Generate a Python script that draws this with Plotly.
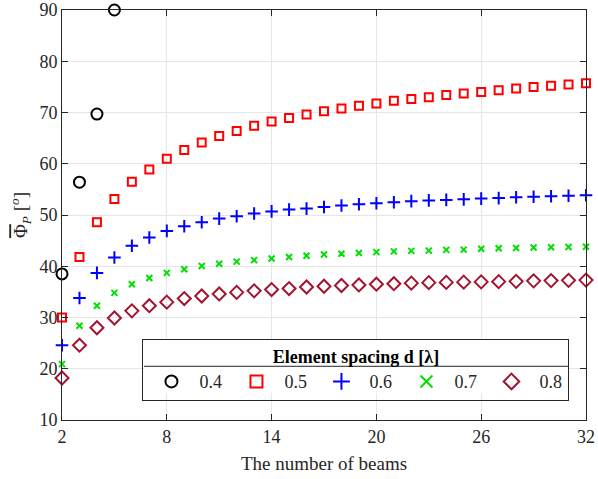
import plotly.graph_objects as go

beams = list(range(2, 33))
x04 = [2, 3, 4, 5]
y04 = [38.5, 56.4, 69.7, 90.0]
y05 = [30.0, 41.8, 48.6, 53.1, 56.5, 58.9, 61.0, 62.7, 64.15, 65.4, 66.4, 67.4, 68.25, 68.95,
       69.6, 70.25, 70.8, 71.3, 71.75, 72.3, 72.65, 73.0, 73.4, 73.7, 74.0, 74.35, 74.7, 75.0,
       75.2, 75.45, 75.7]
y06 = [24.6, 33.8, 38.7, 41.7, 44.0, 45.6, 46.9, 47.8, 48.6, 49.3, 49.75, 50.3, 50.7, 51.05,
       51.25, 51.55, 51.85, 52.1, 52.3, 52.5, 52.7, 52.85, 52.95, 53.05, 53.2, 53.3, 53.45, 53.55,
       53.65, 53.75, 53.85]
y07 = [20.9, 28.4, 32.3, 34.8, 36.5, 37.7, 38.7, 39.4, 40.05, 40.5, 40.9, 41.2, 41.5, 41.8,
       42.05, 42.3, 42.45, 42.6, 42.75, 42.9, 43.0, 43.05, 43.2, 43.25, 43.4, 43.5, 43.55, 43.65,
       43.7, 43.75, 43.8]
y08 = [18.2, 24.6, 28.0, 29.9, 31.3, 32.3, 33.0, 33.7, 34.2, 34.6, 34.9, 35.2, 35.45, 35.65,
       35.95, 36.1, 36.25, 36.35, 36.5, 36.6, 36.7, 36.8, 36.85, 36.9, 36.95, 37.0, 37.05, 37.15,
       37.2, 37.25, 37.3]
labels = ["0.4", "0.5", "0.6", "0.7", "0.8"]
xticks = [2, 8, 14, 20, 26, 32]
yticks = [10, 20, 30, 40, 50, 60, 70, 80, 90]

font = "Liberation Serif"
fig = go.Figure()
fig.add_trace(go.Scatter(x=x04, y=y04, mode="markers", name=labels[0], cliponaxis=False,
                         marker=dict(symbol="circle-open", size=11, color="black", line=dict(width=2, color="black"))))
fig.add_trace(go.Scatter(x=beams, y=y05, mode="markers", name=labels[1], cliponaxis=False,
                         marker=dict(symbol="square-open", size=8, color="#FF0000", line=dict(width=2, color="#FF0000"))))
fig.add_trace(go.Scatter(x=beams, y=y06, mode="markers", name=labels[2], cliponaxis=False,
                         marker=dict(symbol="cross-thin-open", size=9, color="#0000FF", line=dict(width=2, color="#0000FF"))))
fig.add_trace(go.Scatter(x=beams, y=y07, mode="markers", name=labels[3], cliponaxis=False,
                         marker=dict(symbol="x-thin-open", size=6, color="#00E000", line=dict(width=2, color="#00E000"))))
fig.add_trace(go.Scatter(x=beams, y=y08, mode="markers", name=labels[4], cliponaxis=False,
                         marker=dict(symbol="diamond-open", size=10, color="#A2142F", line=dict(width=2, color="#A2142F"))))

axcommon = dict(showline=True, linecolor="#262626", linewidth=1, mirror="ticks", ticks="inside",
                ticklen=6, tickcolor="#262626", showgrid=True, gridcolor="#E6E6E6", gridwidth=1,
                zeroline=False, automargin=False, tickfont=dict(family=font, size=18, color="#262626"))
fig.update_xaxes(range=[2, 32], tickvals=xticks, ticktext=[str(v) for v in xticks],
                 title=dict(text="The number of beams", font=dict(family=font, size=19, color="#262626"), standoff=11),
                 **axcommon)
fig.update_yaxes(range=[10, 90], tickvals=yticks, ticktext=[str(v) for v in yticks],
                 title=dict(text="<span style=\"text-decoration:overline\">Φ</span><sub><i>P</i></sub> [<sup><i>o</i></sup>]",
                            font=dict(family=font, size=19, color="#262626"), standoff=6),
                 **axcommon)
# legend background panel and title separator
fig.add_shape(type="rect", xref="paper", yref="paper", x0=0.1565, x1=0.9656, y0=0.0657, y1=0.198,
              line=dict(width=0), fillcolor="white", layer="above")
fig.add_shape(type="line", xref="paper", yref="paper", x0=0.1565, x1=0.9656, y0=0.131, y1=0.131,
              line=dict(color="#262626", width=1), layer="above")
fig.update_layout(
    width=598, height=479, margin=dict(l=62, r=12, t=10, b=59),
    plot_bgcolor="white", paper_bgcolor="white",
    font=dict(family=font, color="black"),
    legend=dict(orientation="h", x=0.561, xanchor="center", y=0.198, yanchor="top",
                xref="paper", yref="paper",
                bgcolor="rgba(0,0,0,0)", bordercolor="#262626", borderwidth=1,
                itemwidth=46, entrywidth=24, entrywidthmode="pixels",
                title=dict(text="<b>Element spacing d [λ]</b>", side="top center",
                           font=dict(family=font, size=18, color="black")),
                font=dict(family=font, size=18, color="#262626"), itemsizing="constant"),
    showlegend=True,
)
fig.write_html("out.html", config={"displayModeBar": False},
               post_script="document.body.style.margin='0';document.body.style.overflow='hidden';")
